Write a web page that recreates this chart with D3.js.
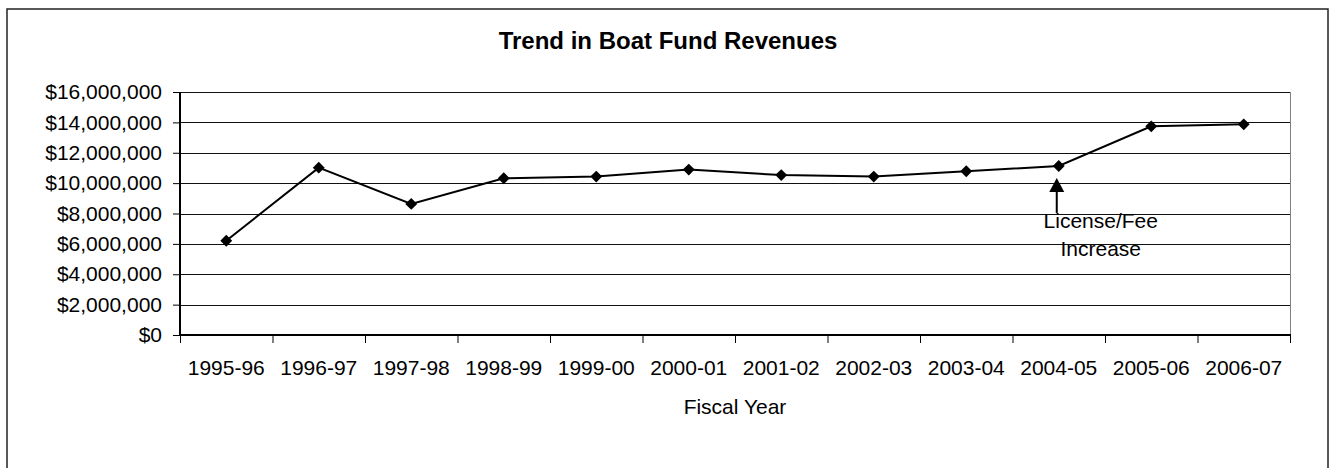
<!DOCTYPE html>
<html>
    <head>
        <meta charset="utf-8">
        <title>Trend in Boat Fund Revenues</title>
        <script src="https://d3js.org/d3.v7.min.js"></script>
        <style>
            body { margin: 0; background: #fff; }
            text { font-family: "Liberation Sans", Arial, sans-serif; fill: #000; }
        </style>
    </head>
    <body>
        <svg id="chart" width="1336" height="468"></svg>

        <script>
        // data
        var years = ["1995-96", "1996-97", "1997-98", "1998-99", "1999-00", "2000-01",
                     "2001-02", "2002-03", "2003-04", "2004-05", "2005-06", "2006-07"]
        var revenues = [6210000, 11020000, 8630000, 10320000, 10430000, 10890000,
                        10530000, 10430000, 10780000, 11130000, 13740000, 13870000]
        var yTicks = [0, 2000000, 4000000, 6000000, 8000000, 10000000, 12000000, 14000000, 16000000]
        var note = { year: "2004-05", lines: ["License/Fee", "Increase"] }

        var svg = d3.select("#chart")

        // outer chart border
        svg.append("rect")
            .attr("x", 7).attr("y", 9)
            .attr("width", 1321).attr("height", 480)
            .attr("fill", "none")
            .attr("stroke", "#222")
            .attr("stroke-width", 1.5)

        // plot area edges (not "top": that name is taken by window.top)
        var pLeft = 180, pRight = 1290, pTop = 92, pBottom = 335

        var x = d3.scaleBand().domain(years).range([pLeft, pRight]).padding(0)
        var y = d3.scaleLinear().domain([0, 16000000]).range([pBottom, pTop])

        // title
        svg.append("text")
            .attr("x", 668).attr("y", 49)
            .attr("text-anchor", "middle")
            .style("font-size", "24px")
            .style("font-weight", "bold")
            .text("Trend in Boat Fund Revenues")

        // gridlines
        svg.append("g")
            .selectAll("line")
            .data(yTicks.filter(function(d){ return d > 0 }))
            .enter().append("line")
            .attr("x1", pLeft).attr("x2", pRight)
            .attr("y1", function(d){ return Math.round(y(d)) + 0.5 })
            .attr("y2", function(d){ return Math.round(y(d)) + 0.5 })
            .attr("stroke", "#111")
            .attr("stroke-width", 1)

        // plot area right border
        svg.append("line")
            .attr("x1", pRight + 0.5).attr("x2", pRight + 0.5)
            .attr("y1", pTop).attr("y2", pBottom)
            .attr("stroke", "#808080")

        // y axis
        var yAxis = svg.append("g")
            .attr("transform", "translate(" + pLeft + ",0)")
            .call(d3.axisLeft(y).tickValues(yTicks).tickFormat(d3.format("$,")).tickSize(7).tickPadding(11))
        yAxis.selectAll("text").style("font-size", "21px").attr("font-family", null)
        yAxis.selectAll(".tick line").attr("stroke", "#000")
        yAxis.select(".domain").remove()
        svg.append("line")
            .attr("x1", pLeft).attr("x2", pLeft)
            .attr("y1", pTop).attr("y2", pBottom + 1)
            .attr("stroke", "#000").attr("stroke-width", 2)

        // x axis labels
        var xAxis = svg.append("g")
            .attr("transform", "translate(0," + pBottom + ")")
            .call(d3.axisBottom(x).tickSize(0).tickPadding(25))
        xAxis.selectAll("text").style("font-size", "21px").attr("font-family", null)
        xAxis.select(".domain").remove()

        // x ticks between categories
        svg.append("g")
            .selectAll("line")
            .data(years.concat(["end"]))
            .enter().append("line")
            .attr("x1", function(d){ return d == "end" ? pRight + 0.5 : x(d) + 0.5 })
            .attr("x2", function(d){ return d == "end" ? pRight + 0.5 : x(d) + 0.5 })
            .attr("y1", pBottom).attr("y2", pBottom + 8)
            .attr("stroke", "#000")

        svg.append("line")
            .attr("x1", pLeft).attr("x2", pRight + 1)
            .attr("y1", pBottom).attr("y2", pBottom)
            .attr("stroke", "#000").attr("stroke-width", 2)

        // x axis title
        svg.append("text")
            .attr("x", (pLeft + pRight) / 2).attr("y", 414)
            .attr("text-anchor", "middle")
            .style("font-size", "21px")
            .text("Fiscal Year")

        // revenue line
        var line = d3.line()
            .x(function(d, i){ return x(years[i]) + x.bandwidth() / 2 })
            .y(function(d){ return y(d) })

        svg.append("path")
            .datum(revenues)
            .attr("d", line)
            .attr("fill", "none")
            .attr("stroke", "#000")
            .attr("stroke-width", 2)

        svg.append("g")
            .selectAll("path")
            .data(revenues)
            .enter().append("path")
            .attr("d", d3.symbol().type(d3.symbolDiamond2).size(90))
            .attr("transform", function(d, i){
                return "translate(" + (x(years[i]) + x.bandwidth() / 2) + "," + y(d) + ")"
            })
            .attr("fill", "#000")

        // annotation arrow
        var ax = x(note.year) + x.bandwidth() / 2 - 2
        var tipY = y(revenues[years.indexOf(note.year)]) + 12
        svg.append("line")
            .attr("x1", ax).attr("x2", ax)
            .attr("y1", tipY + 12).attr("y2", tipY + 35)
            .attr("stroke", "#000").attr("stroke-width", 2)
        svg.append("path")
            .attr("d", "M" + ax + "," + tipY + "L" + (ax + 7.5) + "," + (tipY + 14) + "L" + (ax - 7.5) + "," + (tipY + 14) + "Z")
            .attr("fill", "#000")

        svg.append("g")
            .selectAll("text")
            .data(note.lines)
            .enter().append("text")
            .attr("x", ax + 44)
            .attr("y", function(d, i){ return 227.5 + i * 28.5 })
            .attr("text-anchor", "middle")
            .style("font-size", "21px")
            .text(function(d){ return d })
        </script>
    </body>
</html>
